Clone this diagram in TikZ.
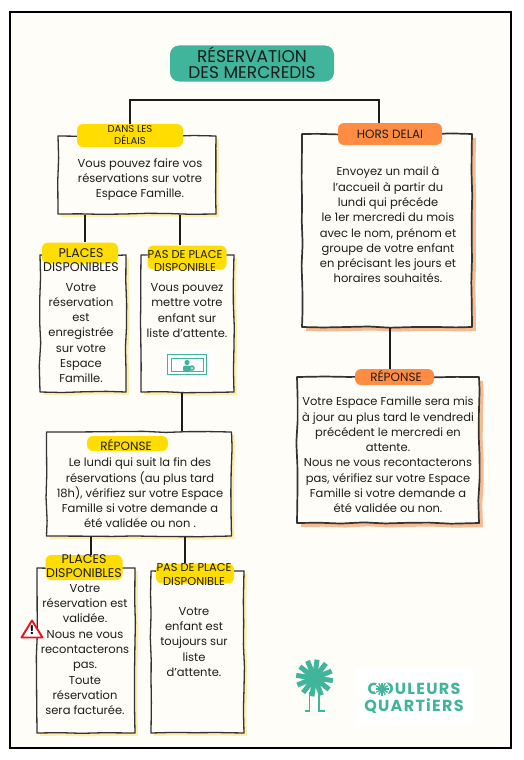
\documentclass[tikz,border=0pt]{standalone}
\usepackage{fontspec}
\setmainfont{Poppins}
\usetikzlibrary{decorations.pathmorphing,shadows,calc}
\definecolor{paper}{HTML}{FFFDF7}
\definecolor{teal}{HTML}{41B59B}
\definecolor{yel}{HTML}{FFDD00}
\definecolor{yelsh}{HTML}{FFEDB0}
\definecolor{org}{HTML}{FF8C42}
\definecolor{orgsh}{HTML}{F7BB93}
\definecolor{ink}{HTML}{1C1C1C}
\definecolor{wred}{HTML}{E8141E}
\tikzset{
  sketch/.style={draw=#1,line width=1.3pt,fill=paper,inner sep=0pt,decorate,
    decoration={random steps,segment length=22pt,amplitude=0.7pt},line join=round},
  ybox/.style={sketch=ink!90,copy shadow={shadow xshift=3pt,shadow yshift=-3pt,fill=yelsh,draw=none}},
  obox/.style={sketch=ink!90,line width=1.7pt,copy shadow={shadow xshift=4pt,shadow yshift=-4pt,fill=orgsh,draw=none}},
  blob/.style={fill=#1,rounded corners=6pt,inner sep=0pt},
  body/.style={align=center,text=ink,font=\fontsize{11.5}{15.3}\selectfont,inner sep=0pt},
  lab/.style={align=center,text=ink,font=\fontsize{12}{14}\selectfont,inner sep=0pt},
  labwide/.style={align=center,text=ink,font=\fontsize{12.6}{14}\selectfont,inner sep=0pt},
  labpas/.style={align=center,text=ink,font=\fontsize{11.4}{13.5}\selectfont,inner sep=0pt},
  smalllab/.style={align=center,text=ink,font=\fontsize{10}{12}\selectfont,inner sep=0pt},
  link/.style={draw=ink,line width=1.5pt},
  wordmark/.style={font=\fontsize{16}{16}\selectfont\bfseries,text=teal,inner sep=0pt},
}
\begin{document}
\begin{tikzpicture}[x=1pt,y=-1pt]
\pgfmathsetseed{7}
\useasboundingbox (0,0) rectangle (524,760);
\fill[white] (0,0) rectangle (524,760);
\draw[black,line width=2pt,fill=paper] (10,12) rectangle (511,748);

% title
\node[blob=teal,rounded corners=9pt,minimum width=164pt,minimum height=36pt] (title) at (252,63.5) {};
\node[align=center,text=ink,font=\fontsize{17}{16}\selectfont,inner sep=0pt] (titlet) at (252,62.5) {RÉSERVATION\\DES MERCREDIS};

% boxes
\node[ybox,minimum width=158pt,minimum height=78pt] (A) at (137,175) {};
\node[ybox,minimum width=86pt,minimum height=137pt] (B) at (83,323.5) {};
\node[ybox,minimum width=93pt,minimum height=137pt] (C) at (187.5,323.5) {};
\node[ybox,minimum width=185pt,minimum height=104pt] (D) at (139,484) {};
\node[ybox,minimum width=98pt,minimum height=165pt] (E) at (86,650.5) {};
\node[ybox,minimum width=93pt,minimum height=162pt] (F) at (197.5,652) {};
\node[obox,minimum width=170pt,minimum height=193pt] (G) at (387,230.5) {};
\node[obox,minimum width=182pt,minimum height=146pt] (H) at (388,450) {};

% label blobs
\node[blob=yel,minimum width=106pt,minimum height=23pt] (la) at (130,135.5) {};
\node[blob=yel,minimum width=76pt,minimum height=21pt] (lb) at (80,253) {};
\node[blob=yel,minimum width=79pt,minimum height=24pt] (lc) at (187,257.5) {};
\node[blob=yel,minimum width=81pt,minimum height=15pt] (ld) at (127.5,443.5) {};
\node[blob=yel,minimum width=77pt,minimum height=25pt] (le) at (84,567.5) {};
\node[blob=yel,minimum width=78pt,minimum height=20pt] (lf) at (195,573.5) {};
\node[blob=org,minimum width=104pt,minimum height=22pt] (lg) at (390,134) {};
\node[blob=org,minimum width=79pt,minimum height=16pt] (lh) at (394.5,377) {};

% label texts
\node[smalllab] (tla) at (130,135.5) {DANS LES\\DÉLAIS};
\node[labwide] (tlb) at (81,260) {PLACES\\DISPONIBLES};
\node[labpas] (tlc) at (185,261) {PAS DE PLACE\\DISPONIBLE};
\node[lab] (tld) at (126,445) {RÉPONSE};
\node[labwide] (tle) at (84,566) {PLACES\\DISPONIBLES};
\node[labpas] (tlf) at (194,574.5) {PAS DE PLACE\\DISPONIBLE};
\node[lab] (tlg) at (390,134) {HORS DELAI};
\node[lab] (tlh) at (396,376) {RÉPONSE};

% connector columns
\coordinate (j) at (0,100);
\coordinate (c1) at (130,0);
\coordinate (c2) at (379,0);
\coordinate (c3) at (85,0);
\coordinate (c4) at (180,0);
\coordinate (c5) at (182,0);
\coordinate (c6) at (91,0);
\coordinate (c7) at (185,0);
\coordinate (c8) at (390,0);
\draw[link] (la.north -| c1) -- (j -| c1) -- (j -| c2) -- (lg.north -| c2);
\draw[link] (A.south -| c3) -- (lb.north -| c3);
\draw[link] (A.south -| c4) -- (lc.north -| c4);
\draw[link] (C.south -| c5) -- (D.north -| c5);
\draw[link] (D.south -| c6) -- (le.north -| c6);
\draw[link] (D.south -| c7) -- (lf.north -| c7);
\draw[link] (G.south -| c8) -- (lh.north -| c8);

% body texts
\node[body] (ta) at (140,179.5) {Vous pouvez faire vos\\réservations sur votre\\Espace Famille.};
\node[body] (tb) at (81,333) {Votre\\réservation\\est\\enregistrée\\sur votre\\Espace\\Famille.};
\node[body] (tc) at (187,310.5) {Vous pouvez\\mettre votre\\enfant sur\\liste d’attente.};
\node[body] (td) at (140,493) {Le lundi qui suit la fin des\\réservations (au plus tard\\18h), vérifiez sur votre Espace\\Famille si votre demande a\\été validée ou non .};
\node[body] (te) at (85,649.5) {Votre\\réservation est\\validée.\\Nous ne vous\\recontacterons\\pas.\\Toute\\réservation\\sera facturée.};
\node[body] (tf) at (194,642) {Votre\\enfant est\\toujours sur\\liste\\d’attente.};
\node[body] (tg) at (388,225) {Envoyez un mail à\\l’accueil à partir du\\lundi qui précéde\\le 1er mercredi du mois\\avec le nom, prénom et\\groupe de votre enfant\\en précisant les jours et\\horaires souhaités.};
\node[body] (th) at (388,455) {Votre Espace Famille sera mis\\à jour au plus tard le vendredi\\précédent le mercredi en\\attente.\\Nous ne vous recontacterons\\pas, vérifiez sur votre Espace\\Famille si votre demande a\\été validée ou non.};

% screen icon
\fill[white] (163,350) rectangle (213,377);
\draw[teal,line width=1.4pt] (167.5,354.5) rectangle (206.5,374.5);
\draw[teal,line width=0.7pt] (171,358) rectangle (203.5,371);
\fill[teal] (187,362.5) circle (2.6pt);
\fill[teal,rounded corners=1.5pt] (183,371.5) rectangle (191,365.5);
\fill[teal] (192,368) circle (2.8pt);
\fill[white] (192,368) circle (1pt);

% warning sign
\fill[white] (32,620) -- (21,638) -- (43,638) -- cycle;
\draw[wred,line width=1.9pt,line join=round] (32,620.5) -- (21.5,637.5) -- (42.5,637.5) -- cycle;
\node[font=\fontsize{12}{12}\selectfont\bfseries,text=black,inner sep=0pt] (warn) at (32,630.5) {!};

% logo figure
\foreach \a in {8,38,...,340}{
  \draw[teal,line width=5pt] (314.5,678) -- ++(\a:18.5);
}
\fill[teal] (314.5,678) circle (6pt);
\draw[teal,line width=1.6pt] (309.5,692) -- (309.5,711) -- (304.5,711);
\draw[teal,line width=1.6pt] (319,692) -- (319,711) -- (325,711);

% logo wordmark
\fill[white] (356,668) rectangle (473,725);
\node[wordmark] at (414,689) (w1) {\addfontfeature{LetterSpace=8}COULEURS};
\node[wordmark] at (414,706) (w2) {\addfontfeature{LetterSpace=8}QUARTiERS};
\fill[white] (382,689) circle (7.5pt);
\foreach \a in {0,30,...,330}{\draw[teal,line width=1.4pt] (382,689) -- ++(\a:6.5);}
\end{tikzpicture}
\end{document}
